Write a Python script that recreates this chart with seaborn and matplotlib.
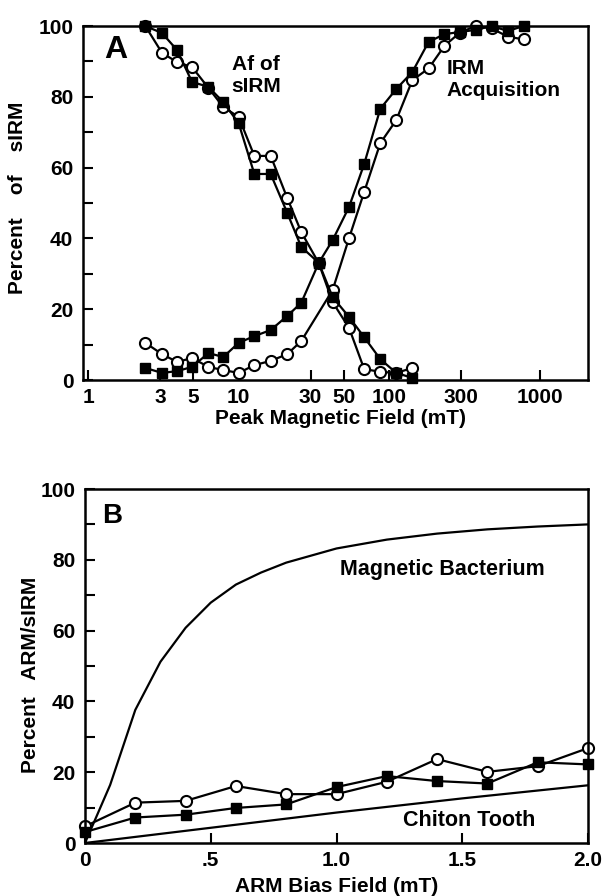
import numpy as np
import pandas as pd
import matplotlib
matplotlib.use("Agg")
import matplotlib.pyplot as plt
import seaborn as sns
from matplotlib.ticker import FixedLocator, FixedFormatter, NullLocator

sns.set_theme(style="ticks")
plt.rcParams['font.family'] = ['Liberation Sans', 'DejaVu Sans']
plt.rcParams['font.weight'] = 'bold'
plt.rcParams['text.color'] = 'black'
plt.rcParams['axes.labelcolor'] = 'black'
plt.rcParams['xtick.color'] = 'black'
plt.rcParams['ytick.color'] = 'black'

# ---------------- Panel A data ----------------
field_a = [2.4, 3.1, 3.9, 4.9, 6.3, 7.9, 10, 12.7, 16.3, 21, 26, 34, 42, 54, 68,
           87, 111, 142, 182, 232, 293, 373, 478, 610, 780]
af_sq_field = field_a[:18]
af_sq = [100, 98.0, 93.2, 84.2, 82.8, 78.5, 72.5, 58.2, 58.2, 47.2, 37.6, 33.1,
         23.4, 17.8, 12.1, 5.9, 2.0, 0.6]
af_ci_field = field_a[:18]
af_ci = [100, 92.4, 89.8, 88.4, 82.5, 77.1, 74.3, 63.3, 63.3, 51.4, 41.8, 33.0,
         22.0, 14.7, 3.1, 2.3, 2.0, 3.4]
irm_sq_field = field_a
irm_sq = [3.4, 2.0, 2.5, 3.7, 7.6, 6.5, 10.5, 12.4, 14.1, 18.1, 21.8, 33.1, 39.5,
          48.9, 61.0, 76.6, 82.2, 87.0, 95.5, 97.7, 98.3, 98.9, 100, 98.6, 100]
irm_ci_field = field_a[:11] + field_a[12:]
irm_ci = [10.5, 7.3, 5.1, 6.2, 3.7, 2.8, 2.0, 4.2, 5.4, 7.3, 11.0, 25.4, 40.1,
          53.1, 66.9, 73.4, 84.7, 88.0, 94.4, 98.1, 100, 99.3, 97.0, 96.2]
a_xticks = [1, 3, 5, 10, 30, 50, 100, 300, 1000]
a_xticklabels = ['1', '3', '5', '10', '30', '50', '100', '300', '1000']

# ---------------- Panel B data ----------------
bias = [0, 0.2, 0.4, 0.6, 0.8, 1.0, 1.2, 1.4, 1.6, 1.8, 2.0]
b_ci = [4.7, 11.4, 11.9, 16.1, 13.8, 13.8, 17.3, 23.7, 20.1, 21.7, 26.8]
b_sq = [3.1, 7.2, 8.0, 9.9, 10.9, 15.8, 18.9, 17.5, 16.8, 22.8, 22.2]
bact_x = [0, 0.1, 0.2, 0.3, 0.4, 0.5, 0.6, 0.7, 0.8, 1.0, 1.2, 1.4, 1.6, 1.8, 2.0]
bact_y = [0, 16.4, 37.6, 51.2, 60.8, 67.9, 73.0, 76.4, 79.2, 83.2, 85.7, 87.4,
          88.6, 89.4, 90.0]
chiton_x = [0, 0.5, 1.0, 1.5, 2.0]
chiton_y = [0, 4.3, 8.6, 12.6, 16.3]
b_xticks = [0, 0.5, 1.0, 1.5, 2.0]
b_xticklabels = ['0', '.5', '1.0', '1.5', '2.0']

fig = plt.figure(figsize=(6.05, 8.96), dpi=100)
axA = fig.add_axes([83/605, 1-380/896, 505/605, 354/896])
axB = fig.add_axes([85/605, 1-843/896, 503/605, 354/896])

LW = 1.6
sq_kw = dict(marker='s', markersize=7.8, markerfacecolor='black', markeredgecolor='black',
             markeredgewidth=1.0, color='black', linewidth=LW, clip_on=False)
ci_kw = dict(marker='o', markersize=8.0, markerfacecolor='white', markeredgecolor='black',
             markeredgewidth=1.5, color='black', linewidth=LW, clip_on=False)

def series(ax, x, y, kw):
    sns.lineplot(x=x, y=y, ax=ax, sort=False, estimator=None, **kw)

series(axA, af_ci_field, af_ci, ci_kw)
series(axA, irm_ci_field, irm_ci, ci_kw)
series(axA, af_sq_field, af_sq, sq_kw)
series(axA, irm_sq_field, irm_sq, sq_kw)

axA.set_xscale('log')
axA.set_xlim(10**(-5/150.7), 10**(500/150.7))
axA.set_ylim(0, 100)
axA.xaxis.set_major_locator(FixedLocator(a_xticks))
axA.xaxis.set_major_formatter(FixedFormatter(a_xticklabels))
axA.xaxis.set_minor_locator(NullLocator())
axA.yaxis.set_major_locator(FixedLocator(list(range(0, 101, 20))))
axA.yaxis.set_minor_locator(FixedLocator(list(range(10, 100, 20))))

series(axB, bias, b_ci, ci_kw)
series(axB, bias, b_sq, sq_kw)
sns.lineplot(x=bact_x, y=bact_y, ax=axB, sort=False, estimator=None, color='black', linewidth=LW)
sns.lineplot(x=chiton_x, y=chiton_y, ax=axB, sort=False, estimator=None, color='black', linewidth=LW)
axB.set_xlim(0, 2.0)
axB.set_ylim(0, 100)
axB.xaxis.set_major_locator(FixedLocator(b_xticks))
axB.xaxis.set_major_formatter(FixedFormatter(b_xticklabels))
axB.yaxis.set_major_locator(FixedLocator(list(range(0, 101, 20))))
axB.yaxis.set_minor_locator(FixedLocator(list(range(10, 100, 20))))

for ax in (axA, axB):
    for s in ax.spines.values():
        s.set_visible(True)
        s.set_linewidth(1.8)
        s.set_color('black')
    ax.tick_params(axis='both', which='both', direction='in', length=7, width=1.5,
                   color='black', labelsize=15, labelcolor='black')
    ax.tick_params(axis='y', which='both', right=False, pad=7)
    ax.tick_params(axis='x', which='both', top=False, pad=6)
    for lab in ax.get_xticklabels() + ax.get_yticklabels():
        lab.set_fontweight('bold')
    ax.grid(False)
    ax.set_facecolor('white')

axA.set_xlabel('Peak Magnetic Field (mT)', fontsize=15, fontweight='bold', va='center')
axA.xaxis.set_label_coords(0.509, -0.110)
axA.set_ylabel('Percent    of    sIRM', fontsize=15, fontweight='bold', va='center')
axA.yaxis.set_label_coords(-0.129, 0.514)

axB.set_xlabel('ARM Bias Field (mT)', fontsize=15, fontweight='bold', va='center')
axB.xaxis.set_label_coords(0.501, -0.124)
axB.set_ylabel('Percent   ARM/sIRM', fontsize=15, fontweight='bold', va='center')
axB.yaxis.set_label_coords(-0.109, 0.475)

axA.text(0.065, 0.932, 'A', transform=axA.transAxes, fontsize=23, fontweight='bold',
         ha='center', va='center')
axA.text(9.0, 86, 'Af of\nsIRM', fontsize=15, fontweight='bold', ha='left', va='center',
         linespacing=1.2)
axA.text(238, 85, 'IRM\nAcquisition', fontsize=15, fontweight='bold', ha='left', va='center',
         linespacing=1.2)

axB.text(0.053, 0.924, 'B', transform=axB.transAxes, fontsize=20, fontweight='bold',
         ha='center', va='center')
axB.text(1.42, 77.3, 'Magnetic Bacterium', fontsize=15.5, fontweight='bold', ha='center', va='center')
axB.text(1.527, 6.4, 'Chiton Tooth', fontsize=15.5, fontweight='bold', ha='center', va='center')

fig.savefig('out.png', dpi=100, facecolor='white')
